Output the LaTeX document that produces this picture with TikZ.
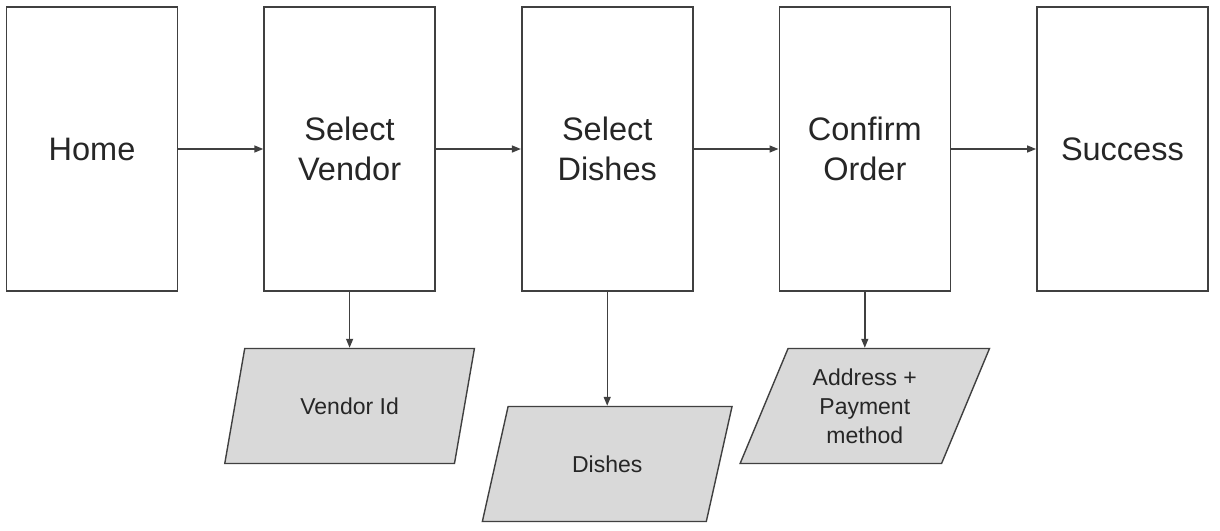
\documentclass[tikz,border=0pt]{standalone}
\usepackage{fontspec}
\setmainfont{Liberation Sans}
\usetikzlibrary{positioning,shapes.geometric,arrows.meta}
\definecolor{linegray}{HTML}{404040}
\definecolor{datagray}{HTML}{D9D9D9}
\tikzset{x=1pt,y=-1pt,
    node distance=85pt,
    screen/.style={draw=linegray,line width=1.6pt,minimum width=171pt,minimum height=284pt,
        align=center,text=black!85,font=\fontsize{32.5}{40}\selectfont},
    datanode/.style={trapezium,trapezium left angle=67,trapezium right angle=113,
        trapezium stretches,draw=linegray,fill=datagray,line width=1.4pt,
        minimum width=250pt,minimum height=115pt,
        align=center,text=black!85,font=\fontsize{23}{29}\selectfont},
    flow/.style={draw=linegray,line width=1.4pt,-{Triangle[length=9pt,width=7pt]}},
    }
\begin{document}
\begin{tikzpicture}
\useasboundingbox (0,0) rectangle (1220,530);
% screens
\node[screen] (home) at (92,149) {Home};
\node[screen,right=of home] (vendor) {Select\\Vendor};
\node[screen,right=of vendor] (dishes) {Select\\Dishes};
\node[screen,right=of dishes] (confirm) {Confirm\\Order};
\node[screen,right=of confirm] (success) {Success};
% data passed on
\node[datanode,below=56pt of vendor] (vendorid) {Vendor Id};
\node[datanode,below=114pt of dishes] (dishlist) {Dishes};
\node[datanode,below=56pt of confirm] (payment) {Address +\\Payment\\method};
% flow
\draw[flow] (home) -- (vendor);
\draw[flow] (vendor) -- (dishes);
\draw[flow] (dishes) -- (confirm);
\draw[flow] (confirm) -- (success);
\draw[flow] (vendor) -- (vendor |- vendorid.north);
\draw[flow] (dishes) -- (dishes |- dishlist.north);
\draw[flow] (confirm) -- (confirm |- payment.north);
\end{tikzpicture}
\end{document}
